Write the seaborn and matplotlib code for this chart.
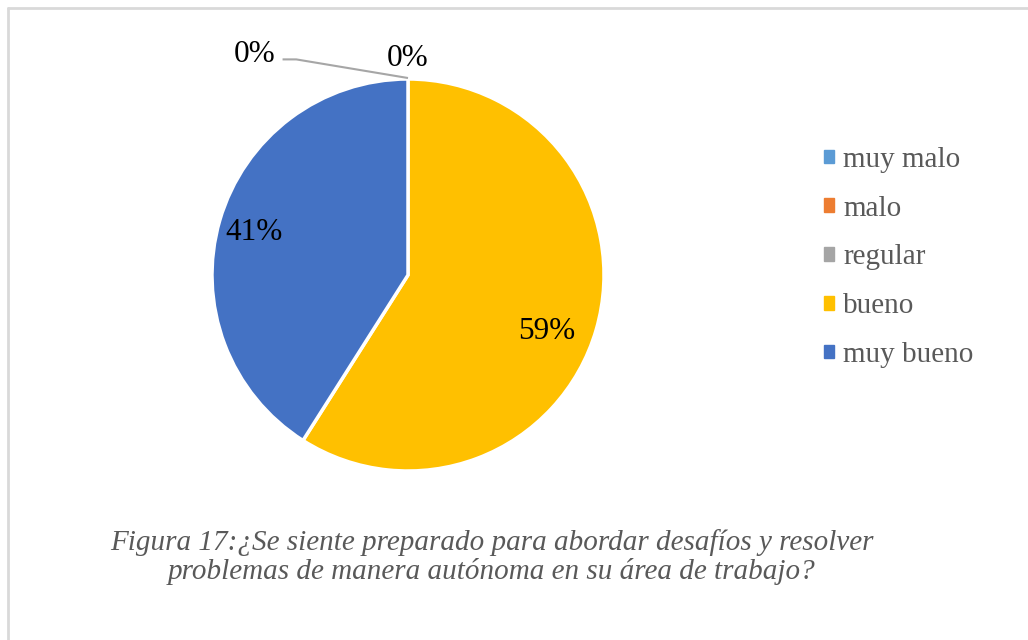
import numpy as np
import matplotlib
matplotlib.use("Agg")
import matplotlib.pyplot as plt
import seaborn as sns
from matplotlib.lines import Line2D
from matplotlib.patches import Rectangle

# data
categories = ["muy malo", "malo", "regular", "bueno", "muy bueno"]
percentages = [0, 0, 0, 59, 41]
colors = ["#5B9BD5", "#ED7D31", "#A5A5A5", "#FFC000", "#4472C4"]
caption = ("Figura 17:¿Se siente preparado para abordar desafíos y resolver\n"
           "problemas de manera autónoma en su área de trabajo?")

sns.set_style("white")
plt.rcParams["font.family"] = ["Liberation Serif", "DejaVu Serif"]

fig = plt.figure(figsize=(10.28, 6.4), dpi=100)
ax = fig.add_axes([0.0, 0.0, 1.0, 1.0])
ax.set_xlim(0, 1028)
ax.set_ylim(640, 0)
ax.axis("off")

# light frame around the chart area
fig.add_artist(Line2D([8 / 1028, 1.0], [1 - 8 / 640, 1 - 8 / 640], color="#d9d9d9", lw=2))
fig.add_artist(Line2D([8 / 1028, 8 / 1028], [1 - 8 / 640, 0.0], color="#d9d9d9", lw=2))

# pie in its own axes
pie_ax = fig.add_axes([212 / 1028, 1 - 471 / 640, 392 / 1028, 392 / 640])
wedges, _ = pie_ax.pie(percentages, colors=colors, startangle=90, counterclock=False,
                       wedgeprops={"edgecolor": "white", "linewidth": 2.5})
pie_ax.set_xlim(-1, 1)
pie_ax.set_ylim(-1, 1)
pie_ax.set_aspect("equal")

# labels for the non-zero slices (radius, angle tweak like excel's best fit)
label_place = {59: (0.76, -4.7), 41: (0.82, -0.4)}
for w, p in zip(wedges, percentages):
    if p == 0:
        continue
    r, da = label_place[p]
    ang = np.deg2rad((w.theta1 + w.theta2) / 2 + da)
    pie_ax.text(r * np.cos(ang), r * np.sin(ang) - 0.015, f"{p}%", ha="center", va="center",
                fontsize=22.5, color="black")

# zero labels at the top of the pie
pie_ax.text(0.0, 1.105, f"{percentages[2]}%", ha="center", va="center", fontsize=22.5,
            color="black", clip_on=False)
lx, ly = -0.675, 1.125
pie_ax.text(lx, ly, f"{percentages[0]}%", ha="right", va="center", fontsize=22.5,
            color="black", clip_on=False)
pie_ax.plot([lx + 0.035, lx + 0.105, 0.0], [ly - 0.025, ly - 0.025, 1.005],
            color="#a6a6a6", lw=1.5, clip_on=False, solid_capstyle="butt")

# legend
handles = [Rectangle((0, 0), 1, 1, color=c) for c in colors]
leg = fig.legend(handles, categories, loc="upper left", bbox_to_anchor=(824 / 1028, 1 - 147 / 640),
                 frameon=False, fontsize=21, handlelength=0.35, handleheight=0.35,
                 handletextpad=0.3, labelspacing=0.78, borderaxespad=0, borderpad=0)
for t in leg.get_texts():
    t.set_color("#595959")

# caption
ax.text(492, 557, caption, ha="center", va="center", fontsize=21, style="italic",
        color="#595959", linespacing=1.12)

plt.savefig("out.png", dpi=100)
